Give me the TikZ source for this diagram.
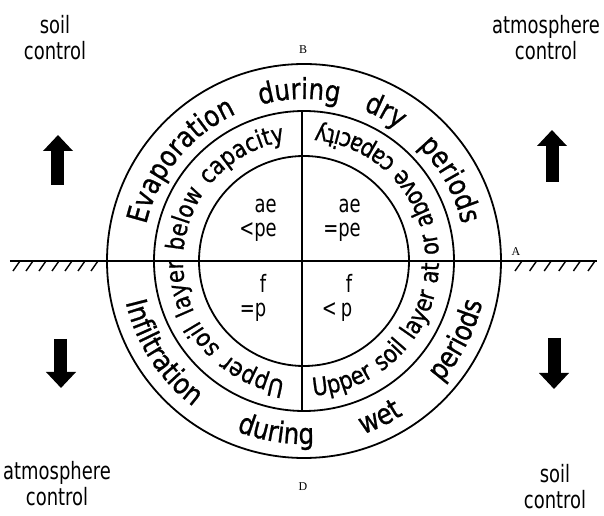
\documentclass[tikz,border=0pt]{standalone}
\usepackage{fontspec}
\setmainfont{DejaVu Sans}[FakeStretch=0.75]
\newfontfamily\ringfont{DejaVu Sans}[FakeStretch=0.85, FakeBold=0.8]
\newfontfamily\markfont{Liberation Serif}
\usetikzlibrary{arrows.meta, decorations.text}

\newcommand{\outerfont}{\ringfont\fontsize{29}{29}\selectfont}
\newcommand{\midfont}{\ringfont\fontsize{25}{25}\selectfont}

\begin{document}
\begin{tikzpicture}[x=1bp, y=1bp,
    ring/.style={line width=1.8bp},
    lbl/.style={align=center, font=\fontsize{24}{26}\selectfont},
    quad/.style={align=right, font=\fontsize{24}{24}\selectfont},
    pointlbl/.style={font=\markfont\fontsize{12}{12}\selectfont, inner sep=0pt},
    bigarr/.style={line width=13bp, -{Triangle[width=29bp,length=16bp]}},
    hatch/.style={line width=1.4bp},
    curvetext/.style={decorate, decoration={text along path, text={#1},
        text align={fit to path stretching spaces}}}
]
    \useasboundingbox (-304,-255) rectangle (300,261);
    \coordinate (c) at (0,0);

    % Circles and dividers
    \draw[ring] (c) circle[radius=197bp];
    \draw[ring] (c) circle[radius=150bp];
    \draw[ring] (c) circle[radius=105bp];
    \coordinate (groundW) at (-294,0);
    \coordinate (groundE) at (293,0);
    \coordinate (midN) at (-2,150);
    \coordinate (midS) at (-2,-150);
    \draw[ring] (groundW) -- (groundE);
    \draw[ring] (midN) -- (midS);

    % Ground hatching
    \foreach \x in {-284,-271,...,-200}
        \draw[hatch] (\x,0) -- ++(-7,-10);
    \foreach \x in {218,232.6,...,292}
        \draw[hatch] (\x,0) -- ++(-7,-10);

    % Ring texts
    \path[curvetext={|\outerfont|Evaporation during dry periods}]
        (167:162bp) arc[start angle=167, end angle=13, radius=162bp];
    \path[curvetext={|\outerfont|Infiltration during wet periods}]
        (193:183bp) arc[start angle=193, end angle=347, radius=183bp];
    \path[curvetext={|\midfont|Upper soil layer below capacity}]
        (261:121bp) arc[start angle=261, end angle=99, radius=121bp];
    \path[curvetext={|\midfont|Upper soil layer at or above capacity}]
        (274:135bp) arc[start angle=274, end angle=445, radius=135bp];

    % Quadrants
    \node[quad] (aeLess) at (-46,41)  {ae\\<pe};
    \node[quad] (aeEq)   at (38,41)   {ae\\=pe};
    \node[quad] (fEq)    at (-51,-37) {f\\=p};
    \node[quad] (fLess)  at (33,-37)  {f\\<\,p};

    % Point letters
    \node[pointlbl] (ptA) at (212,9)    {A};
    \node[pointlbl] (ptB) at (-1,211)   {B};
    \node[pointlbl] (ptD) at (-1,-226)  {D};

    % Corner labels
    \node[lbl] (soilNW)  at (-249,223) {soil\\control};
    \node[lbl] (atmosNE) at (242,223)  {atmosphere\\control};
    \node[lbl] (atmosSW) at (-247,-223) {atmosphere\\control};
    \node[lbl] (soilSE)  at (251,-226) {soil\\control};

    % Block arrows
    \coordinate (nwTail) at (-246,76);  \coordinate (nwTip) at (-246,126);
    \coordinate (neTail) at (248,79);   \coordinate (neTip) at (248,131);
    \coordinate (swTail) at (-243,-78); \coordinate (swTip) at (-243,-127);
    \coordinate (seTail) at (250,-77);  \coordinate (seTip) at (250,-128);
    \draw[bigarr] (nwTail) -- (nwTip);
    \draw[bigarr] (neTail) -- (neTip);
    \draw[bigarr] (swTail) -- (swTip);
    \draw[bigarr] (seTail) -- (seTip);
\end{tikzpicture}
\end{document}
